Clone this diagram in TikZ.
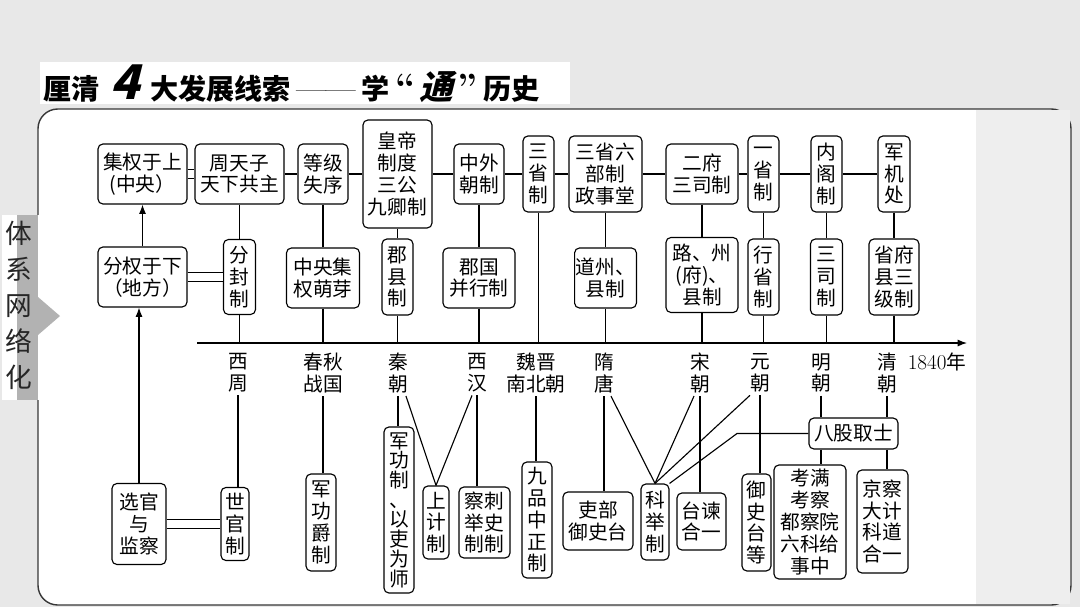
\documentclass[tikz,border=0pt]{standalone}
\usepackage{fontspec}
\newfontfamily\cjk{Noto Sans CJK SC}
\newfontfamily\cjkslant[FakeSlant=0.25]{Noto Sans CJK SC}
\usepackage{tikz}
\usetikzlibrary{arrows.meta,calc,positioning}
\definecolor{slidebg}{RGB}{232,232,232}
\definecolor{panelgray}{RGB}{238,238,238}
\definecolor{tabgray}{RGB}{178,178,178}
\definecolor{framegray}{RGB}{55,55,55}

\begin{document}
\begin{tikzpicture}[x=0.025cm,y=-0.025cm,>=Latex,font=\cjk\fontsize{14}{15.5}\selectfont,every node/.style={align=center},
    box/.style={draw,rounded corners=3.5pt,fill=white,line width=0.8pt,inner sep=1pt},
    era/.style={inner sep=2pt},
    link/.style={line width=0.8pt},
    twin/.style={line width=0.8pt,double,double distance=0.2cm}]
    % slide background, frame and side tab
    \fill[slidebg] (0,0) rectangle (1080,607);
    \fill[white] (40,62) rectangle (570,104);
    \draw[framegray,line width=1pt,rounded corners=14pt,fill=white] (38,109) rectangle (1071,605);
    \fill[panelgray] (976,110) rectangle (1070,604);
    \fill[white] (2,215) rectangle (70,400);
    \fill[tabgray] (17,215) rectangle (38,400);
    \fill[tabgray] (38,297) -- (60,316) -- (38,335) -- cycle;
    \node[font=\cjk\fontsize{19}{25.6}\selectfont,text=black!85] (sidetitle) at (19,305) {体\\系\\网\\络\\化};
    \node[anchor=west,inner sep=0pt,font=\cjk\bfseries\fontsize{20}{21}\selectfont] (title) at (43,84) {厘清\makebox[36pt]{\cjkslant\bfseries\fontsize{34}{34}\selectfont 4}大发展线索\makebox[50pt]{\rmfamily\mdseries\fontsize{23}{23}\selectfont ——}学\makebox[67pt]{{\rmfamily\bfseries\fontsize{26}{26}\selectfont “}\hspace{3pt}{\cjkslant\bfseries\fontsize{24}{24}\selectfont 通}\hspace{3pt}{\rmfamily\bfseries\fontsize{26}{26}\selectfont ”}}历史};

    % top row
    \node[box,minimum width=2.225cm,minimum height=1.5cm] (jiquan) at (142.5,174) {集权于上\\(中央）};
    \node[box,minimum width=2.225cm,minimum height=1.5cm] (zhoutianzi) at (239.5,174) {周天子\\天下共主};
    \node[box,minimum width=1.25cm,minimum height=1.5cm] (dengji) at (323,174) {等级\\失序};
    \node[box,minimum width=1.725cm,minimum height=2.7cm] (huangdi) at (397.5,174) {皇帝\\制度\\三公\\九卿制};
    \node[box,minimum width=1.25cm,minimum height=1.5cm] (zhongwai) at (479,174) {中外\\朝制};
    \node[box,minimum width=0.775cm,minimum height=1.9cm] (sansheng) at (538.5,174) {三\\省\\制};
    \node[box,minimum width=1.825cm,minimum height=1.9cm] (liubu) at (605.5,174) {三省六\\部制\\政事堂};
    \node[box,minimum width=1.8cm,minimum height=1.5cm] (erfu) at (702,174) {二府\\三司制};
    \node[box,minimum width=0.775cm,minimum height=1.9cm] (yisheng) at (763.5,174) {一\\省\\制};
    \node[box,minimum width=0.775cm,minimum height=1.9cm] (neige) at (826.5,174) {内\\阁\\制};
    \node[box,minimum width=0.8cm,minimum height=1.9cm] (junji) at (894,174) {军\\机\\处};

    % middle row
    \node[box,minimum width=2.225cm,minimum height=1.5cm] (fenquan) at (142.5,277) {分权于下\\（地方）};
    \node[box,minimum width=0.8cm,minimum height=1.875cm] (fenfeng) at (239.5,277) {分\\封\\制};
    \node[box,minimum width=1.825cm,minimum height=1.5cm] (mengya) at (323,278) {中央集\\权萌芽};
    \node[box,minimum width=0.775cm,minimum height=1.9cm] (junxian) at (397.5,277) {郡\\县\\制};
    \node[box,minimum width=1.8cm,minimum height=1.5cm] (junguo) at (479,278) {郡国\\并行制};
    \node[box,minimum width=1.225cm,minimum height=1.5cm] (daozhou) at (605.5,278) {道州、\\县制};
    \node[box,minimum width=1.8cm,minimum height=1.875cm] (luzhou) at (702,275) {路、州\\(府)、\\县制};
    \node[box,minimum width=0.775cm,minimum height=1.9cm] (xingsheng) at (763.5,277) {行\\省\\制};
    \node[box,minimum width=0.8cm,minimum height=1.9cm] (sansi) at (826.5,277) {三\\司\\制};
    \node[box,minimum width=1.25cm,minimum height=1.9cm] (shengfu) at (894,277) {省府\\县三\\级制};

    % time axis and eras
    \coordinate (axstart) at (197,343);
    \coordinate (axend) at (967,343);
    \node[era] (xizhou) at (238,373) {西\\周};
    \node[era] (chunqiu) at (323,373) {春秋\\战国};
    \node[era] (qin) at (398,373) {秦\\朝};
    \node[era] (xihan) at (477,373) {西\\汉};
    \node[era] (weijin) at (536,373) {魏晋\\南北朝};
    \node[era] (suitang) at (604,373) {隋\\唐};
    \node[era] (song) at (700,373) {宋\\朝};
    \node[era] (yuan) at (760,373) {元\\朝};
    \node[era] (ming) at (821,373) {明\\朝};
    \node[era] (qing) at (887,373) {清\\朝};
    \node[era] (year) at (937,362) {{\rmfamily\fontsize{15}{15}\selectfont 1840}年};

    % bottom row
    \node[box,minimum width=1.35cm,minimum height=2.025cm] (xuanguan) at (139,524) {选官\\与\\监察};
    \node[box,minimum width=0.7cm,minimum height=1.825cm] (shiguan) at (235,524) {世\\官\\制};
    \node[box,minimum width=0.75cm,minimum height=2.425cm] (jungongjue) at (321,522.5) {军\\功\\爵\\制};
    \node[box,minimum width=0.75cm,minimum height=4.15cm,font=\cjk\fontsize{14}{14}\selectfont] (jungongzhi) at (399,510) {军\\功\\制\\、\\以\\吏\\为\\师};
    \node[box,minimum width=0.65cm,minimum height=1.825cm] (shangji) at (436,522.5) {上\\计\\制};
    \node[box,minimum width=1.275cm,minimum height=1.775cm] (chaju) at (484.5,522.5) {察刺\\举史\\制制};
    \node[box,minimum width=0.75cm,minimum height=2.9cm] (jiupin) at (537,520) {九\\品\\中\\正\\制};
    \node[box,minimum width=1.75cm,minimum height=1.45cm] (libu) at (598,521) {吏部\\御史台};
    \node[box,minimum width=0.7cm,minimum height=1.9cm] (keju) at (655,522) {科\\举\\制};
    \node[box,minimum width=1.225cm,minimum height=1.425cm] (taijian) at (701.5,521.5) {台谏\\合一};
    \node[box,minimum width=0.725cm,minimum height=2.425cm] (yushi) at (756.5,522.5) {御\\史\\台\\等};
    \node[box,minimum width=1.8cm,minimum height=2.85cm] (kaoman) at (810,522) {考满\\考察\\都察院\\六科给\\事中};
    \node[box,minimum width=1.275cm,minimum height=2.575cm] (jingcha) at (882.5,521.5) {京察\\大计\\科道\\合一};
    \node[box,minimum width=2.225cm,minimum height=0.775cm] (bagu) at (853.5,433.5) {八股取士};
    \coordinate (bagubend) at (737,433.5);

    % top chain
    \draw[twin] (jiquan)--(zhoutianzi);
    \draw[link] (zhoutianzi)--(dengji)--(huangdi)--(zhongwai)--(sansheng)--(liubu)--(erfu)--(yisheng)--(neige)--(junji);
    \draw[link,->] (fenquan)--(jiquan);
    \draw[link,->] (xuanguan.north)--(xuanguan.north |- fenquan.south);
    \draw[twin] (fenquan)--(fenfeng);
    \draw[twin] (xuanguan)--(shiguan);

    % down to the axis
    \draw[link] (zhoutianzi)--(fenfeng)--(fenfeng |- axstart);
    \draw[link] (dengji)--(mengya)--(mengya |- axstart);
    \draw[link] (huangdi)--(junxian)--(junxian |- axstart);
    \draw[link] (zhongwai)--(junguo)--(junguo |- axstart);
    \draw[link] (sansheng)--(sansheng |- axstart);
    \draw[link] (liubu)--(daozhou)--(daozhou |- axstart);
    \draw[link] (erfu)--(luzhou)--(luzhou |- axstart);
    \draw[link] (yisheng)--(xingsheng)--(xingsheng |- axstart);
    \draw[link] (neige)--(sansi)--(sansi |- axstart);
    \draw[link] (junji)--(shengfu)--(shengfu |- axstart);
    \draw[link,->] (axstart)--(axend);

    % eras to systems
    \draw[link] (xizhou.south)--(xizhou.south |- shiguan.north);
    \draw[link] (chunqiu.south)--(chunqiu.south |- jungongjue.north);
    \draw[link] (qin.south)--(qin.south |- jungongzhi.north);
    \draw[link] ($(qin.south)+(8,0)$)--(shangji.north);
    \draw[link] ($(xihan.south)+(-5,0)$)--(shangji.north);
    \draw[link] (xihan.south)--(xihan.south |- chaju.north);
    \draw[link] (weijin.south)--(weijin.south |- jiupin.north);
    \draw[link] (suitang.south)--(suitang.south |- libu.north);
    \draw[link] ($(suitang.south)+(7,0)$)--(keju.north);
    \draw[link] ($(song.south)+(-6,0)$)--(keju.north);
    \draw[link] (song.south)--(song.south |- taijian.north);
    \draw[link] ($(yuan.south)+(-10,0)$)--(keju.north);
    \draw[link] (yuan.south)--(yuan.south |- yushi.north);
    \draw[link] (bagu.west)--(bagubend)--(keju.north east);
    \draw[link] (ming.south)--(ming.south |- bagu.north);
    \draw[link] (ming.south |- bagu.south)--(ming.south |- kaoman.north);
    \draw[link] (qing.south)--(qing.south |- bagu.north);
    \draw[link] (qing.south |- bagu.south)--(qing.south |- jingcha.north);
  \end{tikzpicture}
\end{document}
